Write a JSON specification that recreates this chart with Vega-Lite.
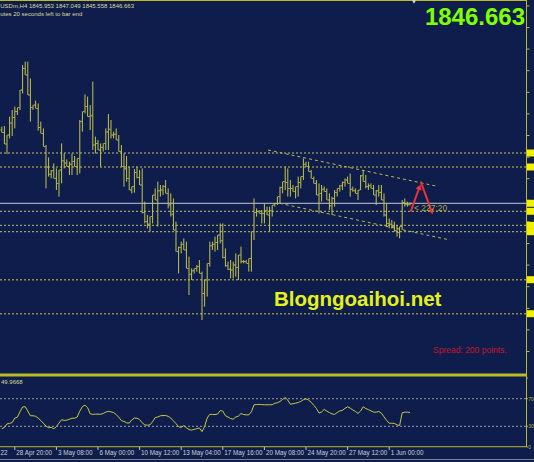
{
  "$schema": "https://vega.github.io/schema/vega-lite/v6.json",
  "width": 526,
  "height": 447,
  "autosize": {"type": "none"},
  "padding": {"left": 0, "top": 0, "right": 8, "bottom": 15},
  "background": "#0e1d4b",
  "config": {"view": {"stroke": null}, "text": {"font": "Liberation Sans"}},
  "datasets": {
    "bars": [
      {"i":0,"o":1883.3,"h":1885.0,"l":1882.0,"c":1882.0,"rsi":26.5},
      {"i":1,"o":1882.0,"h":1885.3,"l":1876.3,"c":1876.3,"rsi":28.3},
      {"i":2,"o":1876.3,"h":1880.8,"l":1871.3,"c":1880.8,"rsi":33.5},
      {"i":3,"o":1880.8,"h":1890.0,"l":1879.1,"c":1886.8,"rsi":34.2},
      {"i":4,"o":1886.8,"h":1893.3,"l":1880.3,"c":1889.6,"rsi":35.5},
      {"i":5,"o":1889.6,"h":1895.0,"l":1884.1,"c":1892.6,"rsi":41.9},
      {"i":6,"o":1892.6,"h":1894.5,"l":1890.8,"c":1894.5,"rsi":43.2},
      {"i":7,"o":1894.5,"h":1903.3,"l":1893.3,"c":1903.3,"rsi":51.0},
      {"i":8,"o":1903.3,"h":1915.8,"l":1901.6,"c":1914.1,"rsi":58.0},
      {"i":9,"o":1914.1,"h":1917.5,"l":1910.8,"c":1910.8,"rsi":58.5},
      {"i":10,"o":1910.8,"h":1917.5,"l":1900.8,"c":1900.8,"rsi":52.0},
      {"i":11,"o":1900.8,"h":1909.1,"l":1887.5,"c":1894.6,"rsi":45.2},
      {"i":12,"o":1894.6,"h":1895.8,"l":1893.3,"c":1895.8,"rsi":45.3},
      {"i":13,"o":1895.8,"h":1898.0,"l":1894.1,"c":1894.1,"rsi":44.5},
      {"i":14,"o":1894.1,"h":1896.6,"l":1883.0,"c":1884.6,"rsi":41.8},
      {"i":15,"o":1884.6,"h":1887.5,"l":1881.6,"c":1881.6,"rsi":38.3},
      {"i":16,"o":1881.6,"h":1884.1,"l":1875.0,"c":1875.0,"rsi":34.5},
      {"i":17,"o":1875.0,"h":1875.8,"l":1854.1,"c":1864.8,"rsi":30.3},
      {"i":18,"o":1864.8,"h":1869.6,"l":1860.0,"c":1861.2,"rsi":27.9},
      {"i":19,"o":1861.2,"h":1863.3,"l":1859.1,"c":1862.9,"rsi":28.4},
      {"i":20,"o":1862.9,"h":1866.6,"l":1859.1,"c":1859.1,"rsi":26.6},
      {"i":21,"o":1859.1,"h":1864.1,"l":1853.3,"c":1856.6,"rsi":29.5},
      {"i":22,"o":1856.6,"h":1863.3,"l":1850.0,"c":1863.3,"rsi":34.7},
      {"i":23,"o":1863.3,"h":1876.6,"l":1856.6,"c":1867.9,"rsi":39.6},
      {"i":24,"o":1867.9,"h":1871.6,"l":1864.1,"c":1866.8,"rsi":38.5},
      {"i":25,"o":1866.8,"h":1868.6,"l":1865.0,"c":1865.0,"rsi":38.9},
      {"i":26,"o":1865.0,"h":1867.5,"l":1860.8,"c":1866.2,"rsi":40.3},
      {"i":27,"o":1866.2,"h":1871.6,"l":1860.8,"c":1867.6,"rsi":41.7},
      {"i":28,"o":1867.6,"h":1870.3,"l":1865.0,"c":1865.0,"rsi":41.7},
      {"i":29,"o":1865.0,"h":1869.1,"l":1860.8,"c":1869.1,"rsi":43.4},
      {"i":30,"o":1869.1,"h":1888.3,"l":1861.6,"c":1887.5,"rsi":52.0},
      {"i":31,"o":1887.5,"h":1892.5,"l":1882.5,"c":1892.5,"rsi":58.6},
      {"i":32,"o":1892.5,"h":1901.1,"l":1891.6,"c":1895.0,"rsi":60.7},
      {"i":33,"o":1895.0,"h":1900.0,"l":1890.0,"c":1890.0,"rsi":57.0},
      {"i":34,"o":1890.0,"h":1895.8,"l":1883.3,"c":1890.4,"rsi":48.0},
      {"i":35,"o":1890.4,"h":1907.5,"l":1873.3,"c":1875.8,"rsi":47.3},
      {"i":36,"o":1875.8,"h":1880.0,"l":1871.6,"c":1876.6,"rsi":47.6},
      {"i":37,"o":1876.6,"h":1878.3,"l":1873.3,"c":1873.3,"rsi":47.6},
      {"i":38,"o":1873.3,"h":1876.6,"l":1865.0,"c":1874.6,"rsi":47.4},
      {"i":39,"o":1874.6,"h":1876.6,"l":1872.5,"c":1876.6,"rsi":48.6},
      {"i":40,"o":1876.6,"h":1884.1,"l":1873.3,"c":1882.3,"rsi":50.6},
      {"i":41,"o":1882.3,"h":1891.3,"l":1873.3,"c":1883.7,"rsi":51.6},
      {"i":42,"o":1883.7,"h":1888.3,"l":1879.1,"c":1880.8,"rsi":50.9},
      {"i":43,"o":1880.8,"h":1882.5,"l":1879.1,"c":1881.2,"rsi":49.9},
      {"i":44,"o":1881.2,"h":1884.1,"l":1878.3,"c":1878.3,"rsi":47.0},
      {"i":45,"o":1878.3,"h":1880.8,"l":1872.5,"c":1872.5,"rsi":43.0},
      {"i":46,"o":1872.5,"h":1875.8,"l":1865.0,"c":1865.0,"rsi":38.3},
      {"i":47,"o":1865.0,"h":1871.6,"l":1855.0,"c":1863.9,"rsi":37.0},
      {"i":48,"o":1863.9,"h":1870.3,"l":1857.5,"c":1859.1,"rsi":35.0},
      {"i":49,"o":1859.1,"h":1865.0,"l":1853.3,"c":1853.3,"rsi":34.6},
      {"i":50,"o":1853.3,"h":1855.0,"l":1851.6,"c":1855.0,"rsi":39.4},
      {"i":51,"o":1855.0,"h":1863.8,"l":1852.0,"c":1862.1,"rsi":41.9},
      {"i":52,"o":1862.1,"h":1865.0,"l":1859.1,"c":1859.6,"rsi":41.8},
      {"i":53,"o":1859.6,"h":1863.3,"l":1855.8,"c":1855.8,"rsi":39.8},
      {"i":54,"o":1855.8,"h":1864.1,"l":1841.6,"c":1842.1,"rsi":35.1},
      {"i":55,"o":1842.1,"h":1847.5,"l":1836.6,"c":1837.5,"rsi":32.0},
      {"i":56,"o":1837.5,"h":1840.8,"l":1834.1,"c":1836.2,"rsi":31.6},
      {"i":57,"o":1836.2,"h":1840.0,"l":1832.5,"c":1840.0,"rsi":32.0},
      {"i":58,"o":1840.0,"h":1850.8,"l":1836.6,"c":1850.8,"rsi":36.7},
      {"i":59,"o":1850.8,"h":1854.1,"l":1848.3,"c":1848.3,"rsi":42.7},
      {"i":60,"o":1848.3,"h":1857.5,"l":1835.0,"c":1852.9,"rsi":43.5},
      {"i":61,"o":1852.9,"h":1855.8,"l":1850.0,"c":1853.3,"rsi":45.2},
      {"i":62,"o":1853.3,"h":1855.8,"l":1850.8,"c":1855.0,"rsi":45.6},
      {"i":63,"o":1855.0,"h":1858.3,"l":1851.6,"c":1851.6,"rsi":45.6},
      {"i":64,"o":1851.6,"h":1854.1,"l":1844.1,"c":1845.8,"rsi":44.5},
      {"i":65,"o":1845.8,"h":1851.6,"l":1840.0,"c":1841.2,"rsi":41.9},
      {"i":66,"o":1841.2,"h":1849.1,"l":1833.3,"c":1833.3,"rsi":37.9},
      {"i":67,"o":1833.3,"h":1837.5,"l":1822.5,"c":1822.5,"rsi":34.0},
      {"i":68,"o":1822.5,"h":1825.0,"l":1811.6,"c":1824.6,"rsi":29.3},
      {"i":69,"o":1824.6,"h":1827.5,"l":1821.6,"c":1826.2,"rsi":28.4},
      {"i":70,"o":1826.2,"h":1829.1,"l":1823.3,"c":1823.3,"rsi":31.0},
      {"i":71,"o":1823.3,"h":1827.5,"l":1814.1,"c":1814.1,"rsi":27.9},
      {"i":72,"o":1814.1,"h":1820.0,"l":1800.8,"c":1811.2,"rsi":25.3},
      {"i":73,"o":1811.2,"h":1814.1,"l":1808.3,"c":1812.9,"rsi":24.4},
      {"i":74,"o":1812.9,"h":1814.1,"l":1811.6,"c":1814.1,"rsi":25.6},
      {"i":75,"o":1814.1,"h":1815.8,"l":1812.5,"c":1815.0,"rsi":26.5},
      {"i":76,"o":1815.0,"h":1818.3,"l":1811.6,"c":1811.6,"rsi":27.6},
      {"i":77,"o":1811.6,"h":1812.5,"l":1788.3,"c":1801.6,"rsi":22.2},
      {"i":78,"o":1801.6,"h":1808.3,"l":1795.0,"c":1808.3,"rsi":29.6},
      {"i":79,"o":1808.3,"h":1816.6,"l":1800.0,"c":1816.6,"rsi":42.0},
      {"i":80,"o":1816.6,"h":1827.5,"l":1815.0,"c":1825.4,"rsi":47.4},
      {"i":81,"o":1825.4,"h":1827.5,"l":1823.3,"c":1826.2,"rsi":47.2},
      {"i":82,"o":1826.2,"h":1830.0,"l":1822.5,"c":1827.1,"rsi":46.9},
      {"i":83,"o":1827.1,"h":1830.8,"l":1823.3,"c":1830.8,"rsi":47.8},
      {"i":84,"o":1830.8,"h":1836.6,"l":1826.6,"c":1827.9,"rsi":52.8},
      {"i":85,"o":1827.9,"h":1836.6,"l":1819.1,"c":1819.6,"rsi":52.0},
      {"i":86,"o":1819.6,"h":1824.1,"l":1815.0,"c":1815.4,"rsi":45.4},
      {"i":87,"o":1815.4,"h":1817.5,"l":1813.3,"c":1813.7,"rsi":43.5},
      {"i":88,"o":1813.7,"h":1818.3,"l":1809.1,"c":1813.3,"rsi":41.2},
      {"i":89,"o":1813.3,"h":1817.5,"l":1809.1,"c":1815.8,"rsi":40.3},
      {"i":90,"o":1815.8,"h":1821.6,"l":1810.0,"c":1814.6,"rsi":43.5},
      {"i":91,"o":1814.6,"h":1820.8,"l":1808.3,"c":1820.8,"rsi":44.8},
      {"i":92,"o":1820.8,"h":1825.0,"l":1816.6,"c":1817.5,"rsi":48.5},
      {"i":93,"o":1817.5,"h":1818.3,"l":1816.6,"c":1817.5,"rsi":47.1},
      {"i":94,"o":1817.5,"h":1818.3,"l":1816.6,"c":1816.6,"rsi":46.6},
      {"i":95,"o":1816.6,"h":1819.1,"l":1812.5,"c":1819.1,"rsi":46.6},
      {"i":96,"o":1819.1,"h":1832.5,"l":1812.5,"c":1832.5,"rsi":51.0},
      {"i":97,"o":1832.5,"h":1849.1,"l":1828.3,"c":1842.1,"rsi":61.2},
      {"i":98,"o":1842.1,"h":1844.1,"l":1840.0,"c":1842.5,"rsi":61.5},
      {"i":99,"o":1842.5,"h":1843.3,"l":1841.6,"c":1841.6,"rsi":61.7},
      {"i":100,"o":1841.6,"h":1843.3,"l":1836.6,"c":1841.6,"rsi":61.4},
      {"i":101,"o":1841.6,"h":1846.6,"l":1836.6,"c":1842.9,"rsi":61.2},
      {"i":102,"o":1842.9,"h":1845.0,"l":1840.8,"c":1840.8,"rsi":61.2},
      {"i":103,"o":1840.8,"h":1845.0,"l":1832.5,"c":1842.9,"rsi":61.2},
      {"i":104,"o":1842.9,"h":1845.8,"l":1840.0,"c":1845.8,"rsi":61.3},
      {"i":105,"o":1845.8,"h":1846.6,"l":1845.0,"c":1846.6,"rsi":63.4},
      {"i":106,"o":1846.6,"h":1850.0,"l":1845.8,"c":1850.0,"rsi":64.1},
      {"i":107,"o":1850.0,"h":1855.0,"l":1846.6,"c":1854.6,"rsi":66.0},
      {"i":108,"o":1854.6,"h":1857.5,"l":1851.6,"c":1857.5,"rsi":69.0},
      {"i":109,"o":1857.5,"h":1865.0,"l":1853.3,"c":1857.1,"rsi":71.6},
      {"i":110,"o":1857.1,"h":1864.1,"l":1850.0,"c":1854.1,"rsi":68.0},
      {"i":111,"o":1854.1,"h":1858.3,"l":1850.0,"c":1854.1,"rsi":61.9},
      {"i":112,"o":1854.1,"h":1855.8,"l":1852.5,"c":1852.5,"rsi":62.7},
      {"i":113,"o":1852.5,"h":1855.0,"l":1849.1,"c":1855.0,"rsi":63.6},
      {"i":114,"o":1855.0,"h":1860.0,"l":1850.0,"c":1857.1,"rsi":64.4},
      {"i":115,"o":1857.1,"h":1860.0,"l":1854.1,"c":1860.0,"rsi":66.1},
      {"i":116,"o":1860.0,"h":1869.1,"l":1858.3,"c":1866.2,"rsi":68.5},
      {"i":117,"o":1866.2,"h":1867.5,"l":1865.0,"c":1865.0,"rsi":69.8},
      {"i":118,"o":1865.0,"h":1867.5,"l":1862.5,"c":1862.5,"rsi":68.0},
      {"i":119,"o":1862.5,"h":1863.3,"l":1859.1,"c":1859.1,"rsi":64.8},
      {"i":120,"o":1859.1,"h":1860.0,"l":1856.6,"c":1856.6,"rsi":60.4},
      {"i":121,"o":1856.6,"h":1858.3,"l":1850.8,"c":1850.8,"rsi":55.9},
      {"i":122,"o":1850.8,"h":1856.6,"l":1841.6,"c":1851.6,"rsi":49.2},
      {"i":123,"o":1851.6,"h":1855.8,"l":1847.5,"c":1853.7,"rsi":50.8},
      {"i":124,"o":1853.7,"h":1855.0,"l":1852.5,"c":1852.5,"rsi":54.5},
      {"i":125,"o":1852.5,"h":1854.1,"l":1848.3,"c":1848.3,"rsi":52.1},
      {"i":126,"o":1848.3,"h":1851.6,"l":1843.3,"c":1845.4,"rsi":49.9},
      {"i":127,"o":1845.4,"h":1850.0,"l":1840.8,"c":1849.1,"rsi":48.0},
      {"i":128,"o":1849.1,"h":1853.3,"l":1845.0,"c":1852.1,"rsi":47.2},
      {"i":129,"o":1852.1,"h":1854.1,"l":1850.0,"c":1854.1,"rsi":50.0},
      {"i":130,"o":1854.1,"h":1855.8,"l":1852.5,"c":1855.4,"rsi":52.2},
      {"i":131,"o":1855.4,"h":1857.5,"l":1853.3,"c":1857.1,"rsi":53.1},
      {"i":132,"o":1857.1,"h":1859.1,"l":1855.0,"c":1858.3,"rsi":56.0},
      {"i":133,"o":1858.3,"h":1860.0,"l":1856.6,"c":1856.6,"rsi":58.2},
      {"i":134,"o":1856.6,"h":1861.6,"l":1850.0,"c":1853.7,"rsi":56.4},
      {"i":135,"o":1853.7,"h":1855.0,"l":1852.5,"c":1852.9,"rsi":53.6},
      {"i":136,"o":1852.9,"h":1854.1,"l":1851.6,"c":1851.6,"rsi":51.6},
      {"i":137,"o":1851.6,"h":1853.3,"l":1848.3,"c":1853.3,"rsi":48.6},
      {"i":138,"o":1853.3,"h":1860.8,"l":1853.3,"c":1860.4,"rsi":52.2},
      {"i":139,"o":1860.4,"h":1863.3,"l":1857.5,"c":1857.5,"rsi":58.3},
      {"i":140,"o":1857.5,"h":1860.8,"l":1854.1,"c":1855.0,"rsi":55.7},
      {"i":141,"o":1855.0,"h":1856.6,"l":1853.3,"c":1855.4,"rsi":54.2},
      {"i":142,"o":1855.4,"h":1856.6,"l":1854.1,"c":1854.1,"rsi":52.3},
      {"i":143,"o":1854.1,"h":1855.8,"l":1850.8,"c":1850.8,"rsi":50.5},
      {"i":144,"o":1850.8,"h":1853.3,"l":1845.8,"c":1852.9,"rsi":50.5},
      {"i":145,"o":1852.9,"h":1855.8,"l":1850.0,"c":1852.1,"rsi":51.5},
      {"i":146,"o":1852.1,"h":1855.8,"l":1848.3,"c":1848.3,"rsi":49.0},
      {"i":147,"o":1848.3,"h":1851.6,"l":1840.0,"c":1840.8,"rsi":43.7},
      {"i":148,"o":1840.8,"h":1846.6,"l":1835.0,"c":1836.6,"rsi":38.5},
      {"i":149,"o":1836.6,"h":1839.1,"l":1834.1,"c":1836.2,"rsi":34.4},
      {"i":150,"o":1836.2,"h":1838.3,"l":1834.1,"c":1835.0,"rsi":34.4},
      {"i":151,"o":1835.0,"h":1837.5,"l":1832.5,"c":1832.9,"rsi":34.2},
      {"i":152,"o":1832.9,"h":1835.8,"l":1830.0,"c":1832.1,"rsi":32.0},
      {"i":153,"o":1832.1,"h":1835.0,"l":1829.1,"c":1835.0,"rsi":31.0},
      {"i":154,"o":1835.0,"h":1848.3,"l":1833.3,"c":1847.1,"rsi":49.6},
      {"i":155,"o":1847.1,"h":1849.1,"l":1845.0,"c":1846.2,"rsi":50.5},
      {"i":156,"o":1846.2,"h":1847.5,"l":1845.0,"c":1845.95,"rsi":50.5},
      {"i":157,"o":1845.953,"h":1847.049,"l":1845.558,"c":1846.663,"rsi":49.9668}
    ],
    "levels": [
      {"p":1871.81,"s":"light"},{"p":1842.66,"s":"light"},{"p":1835.66,"s":"light"},{"p":1832.46,"s":"light"},
      {"p":1864.81,"s":"dark"},{"p":1808.46,"s":"dark"},{"p":1791.46,"s":"dark"}
    ],
    "tags": [
      {"p":1871.81},{"p":1864.81},{"p":1846.663},{"p":1842.66},{"p":1835.66},{"p":1832.46},{"p":1808.46},{"p":1791.46}
    ],
    "pticks": [
      {"p":1945.36},{"p":1934.56},{"p":1923.76},{"p":1912.96},{"p":1902.16},{"p":1891.36},{"p":1880.56},{"p":1869.76},{"p":1858.96},
      {"p":1848.16},{"p":1837.36},{"p":1826.56},{"p":1815.76},{"p":1804.96},{"p":1794.16},{"p":1783.36},{"p":1772.56}
    ],
    "rticks": [{"v":0},{"v":30},{"v":70},{"v":100}],
    "xlabels": [
      {"i":5,"t":"28 Apr 20:00"},{"i":21,"t":"3 May 08:00"},{"i":37,"t":"6 May 00:00"},{"i":53,"t":"10 May 12:00"},
      {"i":69,"t":"13 May 04:00"},{"i":85,"t":"17 May 16:00"},{"i":101,"t":"20 May 08:00"},{"i":117,"t":"24 May 20:00"},
      {"i":133,"t":"27 May 12:00"},{"i":149,"t":"1 Jun 00:00"}
    ],
    "channel": [
      {"line":"upper","i":102.38,"p":1873.31},{"line":"upper","i":167.77,"p":1855.06},
      {"line":"lower","i":106.9,"p":1846.66},{"line":"lower","i":172.38,"p":1828.31}
    ],
    "arrows": [
      {"a":"up","i":157.27,"p":1842.46},{"a":"up","i":160.65,"p":1854.81},
      {"a":"down","i":161.12,"p":1857.46},{"a":"down","i":165.35,"p":1842.46}
    ]
  },
  "resolve": {"scale": {"y": "independent"}},
  "layer": [
    {
      "layer": [
        {
          "data": {"name": "levels"},
          "transform": [{"filter": "datum.s == 'light'"}],
          "mark": {"type": "rule", "color": "#c4c466", "strokeWidth": 1, "strokeDash": [2, 2]},
          "encoding": {"y": {"field": "p", "type": "quantitative", "scale": {"domain": [1724.81, 1948.31], "nice": false, "zero": false}, "axis": null}}
        },
        {
          "data": {"name": "levels"},
          "transform": [{"filter": "datum.s == 'dark'"}],
          "mark": {"type": "rule", "color": "#8c8c4c", "strokeWidth": 1.5, "strokeDash": [2, 2]},
          "encoding": {"y": {"field": "p", "type": "quantitative", "scale": {"domain": [1724.81, 1948.31], "nice": false, "zero": false}, "axis": null}}
        },
        {
          "data": {"values": [{"k": "bid"}]},
          "mark": {"type": "rule", "color": "#c8c8dc", "strokeWidth": 1},
          "encoding": {"y": {"datum": 1846.663, "type": "quantitative", "scale": {"domain": [1724.81, 1948.31], "nice": false, "zero": false}, "axis": null}}
        },
        {
          "data": {"values": [{"k": "top"}]},
          "mark": {"type": "rule", "color": "#bcbc22", "strokeWidth": 2},
          "encoding": {"y": {"datum": 1948.31, "type": "quantitative", "scale": {"domain": [1724.81, 1948.31], "nice": false, "zero": false}, "axis": null}}
        },
        {
          "data": {"values": [{"k": "axis"}]},
          "mark": {"type": "rule", "color": "#bcbc22", "strokeWidth": 1},
          "encoding": {"x": {"datum": 201.81, "type": "quantitative", "scale": {"domain": [-0.692, 201.615], "nice": false, "zero": false}, "axis": null}}
        },
        {
          "data": {"name": "pticks"},
          "mark": {"type": "rule", "color": "#bcbc22", "strokeWidth": 1},
          "encoding": {
            "x": {"datum": 201.81, "type": "quantitative", "scale": {"domain": [-0.692, 201.615], "nice": false, "zero": false}, "axis": null},
            "x2": {"datum": 202.96},
            "y": {"field": "p", "type": "quantitative", "scale": {"domain": [1724.81, 1948.31], "nice": false, "zero": false}, "axis": null}
          }
        },
        {
          "data": {"name": "channel"},
          "mark": {"type": "line", "color": "#b8b850", "strokeWidth": 1, "strokeDash": [3, 3]},
          "encoding": {
            "x": {"field": "i", "type": "quantitative", "scale": {"domain": [-0.692, 201.615], "nice": false, "zero": false}, "axis": null},
            "y": {"field": "p", "type": "quantitative", "scale": {"domain": [1724.81, 1948.31], "nice": false, "zero": false}, "axis": null},
            "detail": {"field": "line"}
          }
        },
        {
          "data": {"name": "bars"},
          "mark": {"type": "rule", "color": "#c4c44a", "strokeWidth": 1},
          "encoding": {
            "x": {"field": "i", "type": "quantitative", "scale": {"domain": [-0.692, 201.615], "nice": false, "zero": false}, "axis": null},
            "y": {"field": "h", "type": "quantitative", "scale": {"domain": [1724.81, 1948.31], "nice": false, "zero": false}, "axis": null},
            "y2": {"field": "l"}
          }
        },
        {
          "data": {"name": "bars"},
          "mark": {"type": "tick", "orient": "horizontal", "color": "#c4c44a", "size": 1.4, "thickness": 1, "xOffset": -1},
          "encoding": {
            "x": {"field": "i", "type": "quantitative", "scale": {"domain": [-0.692, 201.615], "nice": false, "zero": false}, "axis": null},
            "y": {"field": "o", "type": "quantitative", "scale": {"domain": [1724.81, 1948.31], "nice": false, "zero": false}, "axis": null}
          }
        },
        {
          "data": {"name": "bars"},
          "mark": {"type": "tick", "orient": "horizontal", "color": "#c4c44a", "size": 1.4, "thickness": 1, "xOffset": 1},
          "encoding": {
            "x": {"field": "i", "type": "quantitative", "scale": {"domain": [-0.692, 201.615], "nice": false, "zero": false}, "axis": null},
            "y": {"field": "c", "type": "quantitative", "scale": {"domain": [1724.81, 1948.31], "nice": false, "zero": false}, "axis": null}
          }
        },
        {
          "data": {"name": "arrows"},
          "mark": {"type": "line", "color": "#e8323c", "strokeWidth": 2},
          "encoding": {
            "x": {"field": "i", "type": "quantitative", "scale": {"domain": [-0.692, 201.615], "nice": false, "zero": false}, "axis": null},
            "y": {"field": "p", "type": "quantitative", "scale": {"domain": [1724.81, 1948.31], "nice": false, "zero": false}, "axis": null},
            "detail": {"field": "a"}
          }
        },
        {
          "data": {"values": [{"a": "up"}]},
          "mark": {"type": "point", "shape": "triangle-up", "filled": true, "color": "#e8323c", "size": 40, "angle": 20, "opacity": 1},
          "encoding": {
            "x": {"datum": 160.65, "type": "quantitative", "scale": {"domain": [-0.692, 201.615], "nice": false, "zero": false}, "axis": null},
            "y": {"datum": 1854.81, "type": "quantitative", "scale": {"domain": [1724.81, 1948.31], "nice": false, "zero": false}, "axis": null}
          }
        },
        {
          "data": {"values": [{"a": "down"}]},
          "mark": {"type": "point", "shape": "triangle-down", "filled": true, "color": "#e8323c", "size": 40, "angle": 340, "opacity": 1},
          "encoding": {
            "x": {"datum": 165.35, "type": "quantitative", "scale": {"domain": [-0.692, 201.615], "nice": false, "zero": false}, "axis": null},
            "y": {"datum": 1842.46, "type": "quantitative", "scale": {"domain": [1724.81, 1948.31], "nice": false, "zero": false}, "axis": null}
          }
        },
        {
          "data": {"name": "tags"},
          "mark": {"type": "point", "shape": "square", "filled": true, "color": "#f0f000", "size": 49, "opacity": 1},
          "encoding": {
            "x": {"datum": 203.35, "type": "quantitative", "scale": {"domain": [-0.692, 201.615], "nice": false, "zero": false}, "axis": null},
            "y": {"field": "p", "type": "quantitative", "scale": {"domain": [1724.81, 1948.31], "nice": false, "zero": false}, "axis": null}
          }
        },
        {
          "data": {"values": [{"k": "shift"}]},
          "mark": {"type": "point", "shape": "triangle-down", "filled": true, "color": "#d8d8d8", "size": 16, "opacity": 1},
          "encoding": {
            "x": {"datum": 158.54, "type": "quantitative", "scale": {"domain": [-0.692, 201.615], "nice": false, "zero": false}, "axis": null},
            "y": {"datum": 1947.3, "type": "quantitative", "scale": {"domain": [1724.81, 1948.31], "nice": false, "zero": false}, "axis": null}
          }
        },
        {
          "data": {"values": [{"t": "USDm,H4  1845.953 1847.049 1845.558 1846.663"}]},
          "mark": {"type": "text", "align": "left", "baseline": "middle", "fontSize": 6, "color": "#dcdc9c"},
          "encoding": {
            "x": {"datum": -0.6, "type": "quantitative", "scale": {"domain": [-0.692, 201.615], "nice": false, "zero": false}, "axis": null},
            "y": {"datum": 1945.46, "type": "quantitative", "scale": {"domain": [1724.81, 1948.31], "nice": false, "zero": false}, "axis": null},
            "text": {"field": "t"}
          }
        },
        {
          "data": {"values": [{"t": "utes 20 seconds left to bar end"}]},
          "mark": {"type": "text", "align": "left", "baseline": "middle", "fontSize": 6, "color": "#dcdc9c"},
          "encoding": {
            "x": {"datum": -0.6, "type": "quantitative", "scale": {"domain": [-0.692, 201.615], "nice": false, "zero": false}, "axis": null},
            "y": {"datum": 1941.16, "type": "quantitative", "scale": {"domain": [1724.81, 1948.31], "nice": false, "zero": false}, "axis": null},
            "text": {"field": "t"}
          }
        },
        {
          "data": {"values": [{"t": "1846.663"}]},
          "mark": {"type": "text", "align": "right", "baseline": "alphabetic", "fontSize": 24, "fontWeight": "bold", "color": "#80ff00"},
          "encoding": {
            "x": {"datum": 201.23, "type": "quantitative", "scale": {"domain": [-0.692, 201.615], "nice": false, "zero": false}, "axis": null},
            "y": {"datum": 1936.06, "type": "quantitative", "scale": {"domain": [1724.81, 1948.31], "nice": false, "zero": false}, "axis": null},
            "text": {"field": "t"}
          }
        },
        {
          "data": {"values": [{"t": "Blogngoaihoi.net"}]},
          "mark": {"type": "text", "align": "left", "baseline": "alphabetic", "fontSize": 20.5, "fontWeight": "bold", "color": "#e4f21c"},
          "encoding": {
            "x": {"datum": 104.69, "type": "quantitative", "scale": {"domain": [-0.692, 201.615], "nice": false, "zero": false}, "axis": null},
            "y": {"datum": 1795.31, "type": "quantitative", "scale": {"domain": [1724.81, 1948.31], "nice": false, "zero": false}, "axis": null},
            "text": {"field": "t"}
          }
        },
        {
          "data": {"values": [{"t": "Spread: 200 points."}]},
          "mark": {"type": "text", "align": "left", "baseline": "middle", "fontSize": 8.5, "color": "#c8142e"},
          "encoding": {
            "x": {"datum": 165.85, "type": "quantitative", "scale": {"domain": [-0.692, 201.615], "nice": false, "zero": false}, "axis": null},
            "y": {"datum": 1773.31, "type": "quantitative", "scale": {"domain": [1724.81, 1948.31], "nice": false, "zero": false}, "axis": null},
            "text": {"field": "t"}
          }
        },
        {
          "data": {"values": [{"t": "< 227:20"}]},
          "mark": {"type": "text", "align": "left", "baseline": "middle", "fontSize": 8.5, "color": "#a8a840"},
          "encoding": {
            "x": {"datum": 158.54, "type": "quantitative", "scale": {"domain": [-0.692, 201.615], "nice": false, "zero": false}, "axis": null},
            "y": {"datum": 1844.16, "type": "quantitative", "scale": {"domain": [1724.81, 1948.31], "nice": false, "zero": false}, "axis": null},
            "text": {"field": "t"}
          }
        }
      ]
    },
    {
      "layer": [
        {
          "data": {"values": [{"v": 30}, {"v": 70}]},
          "mark": {"type": "rule", "color": "#9c9ca4", "strokeWidth": 1, "strokeDash": [2, 2]},
          "encoding": {"y": {"field": "v", "type": "quantitative", "scale": {"domain": [0, 647.8], "nice": false, "zero": false}, "axis": null}}
        },
        {
          "data": {"values": [{"k": "sep"}]},
          "mark": {"type": "rule", "color": "#bcbc22", "strokeWidth": 3},
          "encoding": {"y": {"datum": 104.35, "type": "quantitative", "scale": {"domain": [0, 647.8], "nice": false, "zero": false}, "axis": null}}
        },
        {
          "data": {"values": [{"k": "bottom"}]},
          "mark": {"type": "rule", "color": "#bcbc22", "strokeWidth": 1},
          "encoding": {"y": {"datum": 0.4, "type": "quantitative", "scale": {"domain": [0, 647.8], "nice": false, "zero": false}, "axis": null}}
        },
        {
          "data": {"values": [{"k": "frame"}]},
          "mark": {"type": "rule", "color": "#7c8296", "strokeWidth": 1},
          "encoding": {
            "x": {"datum": -0.692, "type": "quantitative", "scale": {"domain": [-0.692, 201.615], "nice": false, "zero": false}, "axis": null},
            "x2": {"datum": 204.7},
            "y": {"datum": -18.1, "type": "quantitative", "scale": {"domain": [0, 647.8], "nice": false, "zero": false}, "axis": null}
          }
        },
        {
          "data": {"name": "rticks"},
          "mark": {"type": "rule", "color": "#bcbc22", "strokeWidth": 1},
          "encoding": {
            "x": {"datum": 201.81, "type": "quantitative", "scale": {"domain": [-0.692, 201.615], "nice": false, "zero": false}, "axis": null},
            "x2": {"datum": 202.35},
            "y": {"field": "v", "type": "quantitative", "scale": {"domain": [0, 647.8], "nice": false, "zero": false}, "axis": null}
          }
        },
        {
          "data": {"name": "rticks"},
          "transform": [{"filter": "datum.v < 100"}],
          "mark": {"type": "text", "align": "left", "baseline": "middle", "fontSize": 5, "color": "#b4b45a"},
          "encoding": {
            "x": {"datum": 202.5, "type": "quantitative", "scale": {"domain": [-0.692, 201.615], "nice": false, "zero": false}, "axis": null},
            "y": {"field": "v", "type": "quantitative", "scale": {"domain": [0, 647.8], "nice": false, "zero": false}, "axis": null},
            "text": {"field": "v", "type": "quantitative"}
          }
        },
        {
          "data": {"name": "xlabels"},
          "mark": {"type": "rule", "color": "#c8c8c8", "strokeWidth": 1},
          "encoding": {
            "x": {"field": "i", "type": "quantitative", "scale": {"domain": [-0.692, 201.615], "nice": false, "zero": false}, "axis": null},
            "y": {"datum": 0, "type": "quantitative", "scale": {"domain": [0, 647.8], "nice": false, "zero": false}, "axis": null},
            "y2": {"datum": -4.3}
          }
        },
        {
          "data": {"name": "xlabels"},
          "mark": {"type": "text", "align": "left", "baseline": "middle", "fontSize": 6.3, "color": "#cfcfcf", "dx": 1.5},
          "encoding": {
            "x": {"field": "i", "type": "quantitative", "scale": {"domain": [-0.692, 201.615], "nice": false, "zero": false}, "axis": null},
            "y": {"datum": -8.7, "type": "quantitative", "scale": {"domain": [0, 647.8], "nice": false, "zero": false}, "axis": null},
            "text": {"field": "t"}
          }
        },
        {
          "data": {"name": "bars"},
          "mark": {"type": "line", "color": "#c8c840", "strokeWidth": 1},
          "encoding": {
            "x": {"field": "i", "type": "quantitative", "scale": {"domain": [-0.692, 201.615], "nice": false, "zero": false}, "axis": null},
            "y": {"field": "rsi", "type": "quantitative", "scale": {"domain": [0, 647.8], "nice": false, "zero": false}, "axis": null}
          }
        },
        {
          "data": {"values": [{"t": "49.9668"}]},
          "mark": {"type": "text", "align": "left", "baseline": "middle", "fontSize": 6, "color": "#dcdc9c"},
          "encoding": {
            "x": {"datum": -0.3, "type": "quantitative", "scale": {"domain": [-0.692, 201.615], "nice": false, "zero": false}, "axis": null},
            "y": {"datum": 94.2, "type": "quantitative", "scale": {"domain": [0, 647.8], "nice": false, "zero": false}, "axis": null},
            "text": {"field": "t"}
          }
        },
        {
          "data": {"values": [{"t": "22"}]},
          "mark": {"type": "text", "align": "left", "baseline": "middle", "fontSize": 6.3, "color": "#cfcfcf"},
          "encoding": {
            "x": {"datum": -0.5, "type": "quantitative", "scale": {"domain": [-0.692, 201.615], "nice": false, "zero": false}, "axis": null},
            "y": {"datum": -8.7, "type": "quantitative", "scale": {"domain": [0, 647.8], "nice": false, "zero": false}, "axis": null},
            "text": {"field": "t"}
          }
        }
      ]
    }
  ]
}
